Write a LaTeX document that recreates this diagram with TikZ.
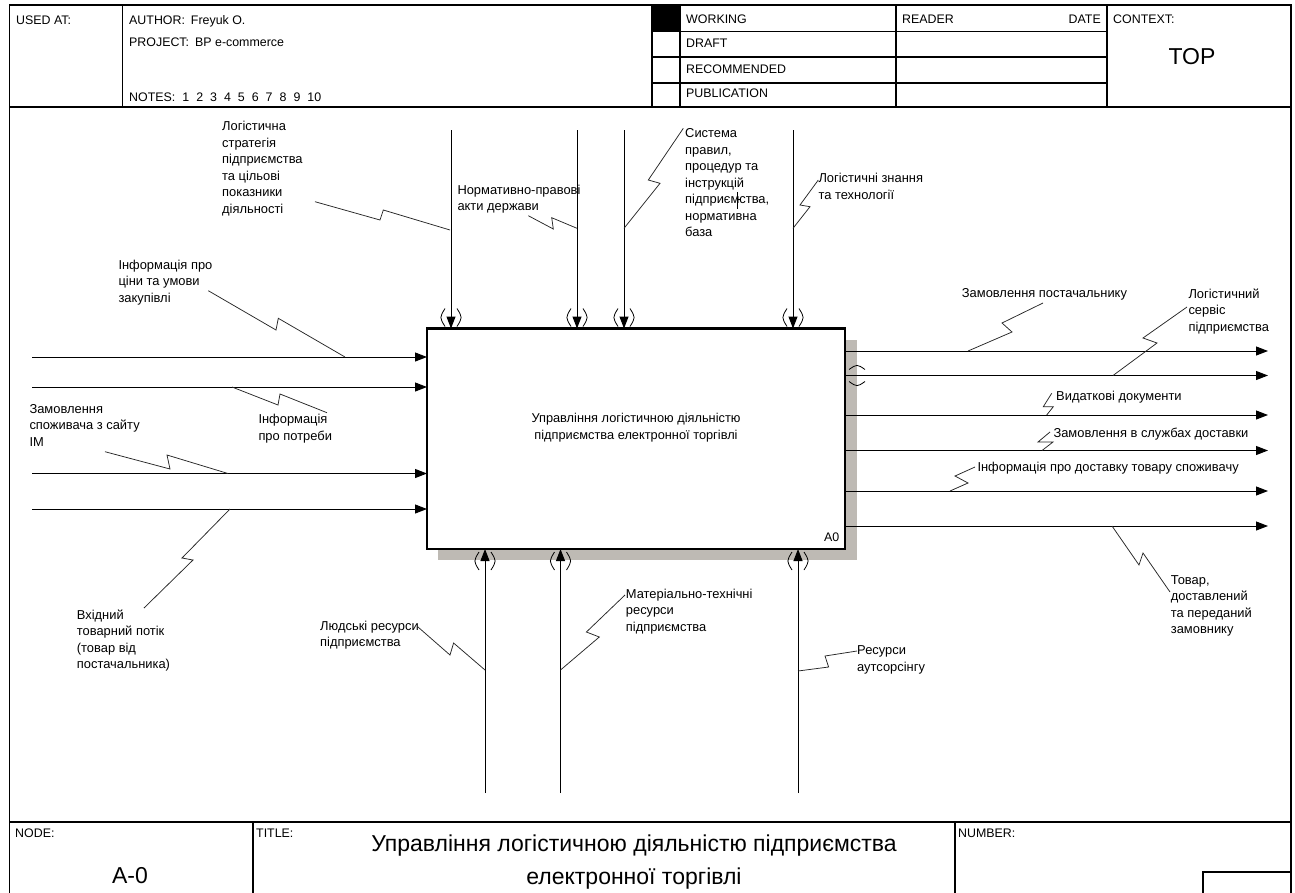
\documentclass[tikz,border=0pt]{standalone}
\usepackage{fontspec}
\setmainfont{Liberation Sans}
\usetikzlibrary{arrows.meta}

\definecolor{shadowgray}{RGB}{190,186,180}
\newcommand\lblfont{\fontsize{12.9}{16.5}\selectfont}
\newcommand\boxfont{\fontsize{12.8}{17.2}\selectfont}
\newcommand\hdrfont{\fontsize{12.4}{15}\selectfont}
\newcommand\bigfont{\fontsize{23}{33}\selectfont}
% stacked lines, baseline on the first line
\newcommand\stackl[1]{\begin{tabular}[t]{@{}l@{}}#1\end{tabular}}
\newcommand\stackc[1]{\begin{tabular}[t]{@{}c@{}}#1\end{tabular}}

\begin{document}
\begin{tikzpicture}[x=1pt,y=-1pt,
  frameline/.style={line width=1.3pt},
  arr/.style={line width=1pt,-{Triangle[length=12pt,width=9pt]}},
  squig/.style={line width=0.75pt,black!85},
  lbl/.style={anchor=base west,inner sep=0pt,font=\lblfont},
  hdr/.style={anchor=base west,inner sep=0pt,font=\hdrfont},
  tunv/.pic={\draw[line width=0.8pt] (-6,-9) .. controls (-11.5,0) .. (-6,9);
             \draw[line width=0.8pt] (6,-9) .. controls (11.5,0) .. (6,9);},
  tunh/.pic={\draw[line width=0.8pt] (-8,-6) .. controls (0,-11.5) .. (8,-6);
             \draw[line width=0.8pt] (-8,6) .. controls (0,11.5) .. (8,6);}
]
\useasboundingbox (0,0) rectangle (1295,892);

% ---------- form frame ----------
\draw[frameline] (9.5,900) -- (9.5,5) -- (1291,5) -- (1291,900);
\draw[frameline] (9.5,107) -- (1291,107);
\draw[frameline] (122.5,5) -- (122.5,107);
\draw[frameline] (652,5) -- (652,107);
\draw[frameline] (680,5) -- (680,107);
\draw[frameline] (896,5) -- (896,107);
\draw[frameline] (1107,5) -- (1107,107);
\draw[frameline] (652,31.5) -- (1107,31.5);
\draw[frameline] (652,57) -- (1107,57);
\draw[frameline] (652,83) -- (1107,83);
\fill (652,5) rectangle (680,31.5);

\node[hdr] (usedat) at (16,24) {USED AT:};
\node[hdr] (author) at (129,24) {AUTHOR:\hspace{6pt}Freyuk O.};
\node[hdr] (project) at (129,46.5) {PROJECT:\hspace{6pt}BP e-commerce};
\node[hdr] (notes) at (129,101) {NOTES:\hspace{7pt}1\hspace{7pt}2\hspace{7pt}3\hspace{7pt}4\hspace{7pt}5\hspace{7pt}6\hspace{7pt}7\hspace{7pt}8\hspace{7pt}9\hspace{7pt}10};
\node[hdr] (working) at (686,23.5) {WORKING};
\node[hdr] (draft) at (686,47.5) {DRAFT};
\node[hdr] (recommended) at (686,73.5) {RECOMMENDED};
\node[hdr] (publication) at (686,97.5) {PUBLICATION};
\node[hdr] (reader) at (902,23.5) {READER};
\node[hdr,anchor=base east] (date) at (1101,23.5) {DATE};
\node[hdr] (context) at (1113,23.5) {CONTEXT:};
\node[anchor=base,inner sep=0pt,font=\bigfont] (top) at (1192,64) {TOP};

% bottom strip
\draw[frameline] (9.5,822) -- (1291,822);
\draw[frameline] (253,822) -- (253,900);
\draw[frameline] (955,822) -- (955,900);
\draw[frameline] (1203,900) -- (1203,872) -- (1291,872);
\node[hdr] (nodelbl) at (15,837) {NODE:};
\node[hdr] (titlelbl) at (256,837) {TITLE:};
\node[hdr] (numberlbl) at (958,837) {NUMBER:};
\node[anchor=base,inner sep=0pt,font=\bigfont] (nodenum) at (130,883) {A-0};
\node[anchor=base,inner sep=0pt,font=\bigfont] (title) at (634,851.2)
  {\stackc{Управління логістичною діяльністю підприємства\\електронної торгівлі}};

% ---------- activity box ----------
\fill[shadowgray] (438,340) rectangle (856.5,560);
\node[draw,line width=2.5pt,fill=white,minimum width=418pt,minimum height=220.5pt,inner sep=0pt,outer sep=0pt] (A0) at (636,438.75) {};
\node[anchor=base,inner sep=0pt,font=\boxfont] (A0txt) at (636,422.5)
  {\stackc{Управління логістичною діяльністю\\підприємства електронної торгівлі}};
\node[hdr,anchor=base east] (A0num) at (839.5,541) {A0};

% ---------- controls ----------
\foreach \n/\x in {c1/451,c2/577,c3/624,c4/793}{
  \coordinate (\n) at (\x,130);
  \draw[arr] (\n) -- (\n |- A0.north);
  \pic at (\x,317.5) {tunv};
}

% ---------- mechanisms ----------
\foreach \n/\x in {m1/485,m2/560.5,m3/798}{
  \coordinate (\n) at (\x,793);
  \draw[arr] (\n) -- (\n |- A0.south);
  \pic at (\x,561) {tunv};
}

% ---------- inputs ----------
\foreach \n/\y in {i1/357,i2/387,i3/473.5,i4/509}{
  \coordinate (\n) at (32,\y);
  \draw[arr] (\n) -- (\n -| A0.west);
}

% ---------- outputs ----------
\foreach \n/\y in {o1/351,o2/375.5,o3/415,o4/450.5,o5/491,o6/526}{
  \coordinate (\n) at (1268,\y);
  \draw[arr] (\n -| A0.east) -- (\n);
}
\pic at (857,375.5) {tunh};

% ---------- arrow labels ----------
\node[lbl] (l1) at (222,130.9) {\stackl{Логістична\\стратегія\\підприємства\\та цільові\\показники\\діяльності}};
\draw[squig] (315,201.7) -- (380,220) -- (383.3,210) -- (450,230);

\node[lbl] (l2) at (118.3,269.2) {\stackl{Інформація про\\ціни та умови\\закупівлі}};
\draw[squig] (208.3,290.7) -- (276,330) -- (278.3,318.3) -- (345,357);

\node[lbl] (l3) at (457.3,194.2) {\stackl{Нормативно-правові\\акти держави}};
\draw[squig] (528.3,215.7) -- (553.3,229) -- (551.7,217.7) -- (577,228.3);

\node[lbl] (l4) at (685,137.5) {\stackl{Система\\правил,\\процедур та\\інструкцій\\підприємства,\\нормативна\\база}};
\draw[squig] (683.3,128.3) -- (648.3,180) -- (660,183.3) -- (624,228.3);
\draw[line width=0.6pt] (737.5,192) -- (737.5,209);
\draw[line width=0.6pt] (737.5,199) -- (741,199);

\node[lbl] (l5) at (818.3,182.5) {\stackl{Логістичні знання\\та технології}};
\draw[squig] (818.3,180) -- (800,205) -- (810,206.7) -- (793,228.3);

\node[lbl] (l6) at (961.7,297.5) {Замовлення постачальнику};
\draw[squig] (1043,303) -- (1002,323) -- (1012,332) -- (968,351);

\node[lbl] (l7) at (1188.3,298.2) {\stackl{Логістичний\\сервіс\\підприємства}};
\draw[squig] (1187,307) -- (1143,338) -- (1157,343) -- (1113,375.5);

\node[lbl] (l8) at (1056,400.2) {Видаткові документи};
\draw[squig] (1051.7,393.3) -- (1043.3,406.7) -- (1053.3,406.7) -- (1046.7,415);

\node[lbl] (l9) at (1053.3,437.5) {Замовлення в службах доставки};
\draw[squig] (1050,432) -- (1038,442) -- (1053,442) -- (1042,450.5);

\node[lbl] (l10) at (977.3,471.9) {Інформація про доставку товару споживачу};
\draw[squig] (975,467) -- (955,476) -- (968,483) -- (950,491);

\node[lbl] (l11) at (1170.7,584.2) {\stackl{Товар,\\доставлений\\та переданий\\замовнику}};
\draw[squig] (1112,526) -- (1139,565) -- (1143,553) -- (1170,592);

\node[lbl] (l12) at (258.3,423.5) {\stackl{Інформація\\про потреби}};
\draw[squig] (232,387) -- (278,405) -- (280,394) -- (327,412.7);

\node[lbl] (l13) at (29.3,413.2) {\stackl{Замовлення\\споживача з сайту\\ІМ}};
\draw[squig] (105,451.7) -- (170,469) -- (167,455) -- (228,473.5);

\node[lbl] (l14) at (76.7,619.2) {\stackl{Вхідний\\товарний потік\\(товар від\\постачальника)}};
\draw[squig] (230,509) -- (182,558) -- (193,560) -- (144,608);

\node[lbl] (l15) at (320,630.2) {\stackl{Людські ресурси\\підприємства}};
\draw[squig] (418,627) -- (450,655) -- (453.6,643) -- (485,670);

\node[lbl] (l16) at (625.7,598.2) {\stackl{Матеріально-технічні\\ресурси\\підприємства}};
\draw[squig] (625,595) -- (586.4,632) -- (599.3,637) -- (560.5,670);

\node[lbl] (l17) at (857,654.9) {\stackl{Ресурси\\аутсорсінгу}};
\draw[squig] (857,651) -- (825,656) -- (828.6,667) -- (798,671);

\end{tikzpicture}
\end{document}
